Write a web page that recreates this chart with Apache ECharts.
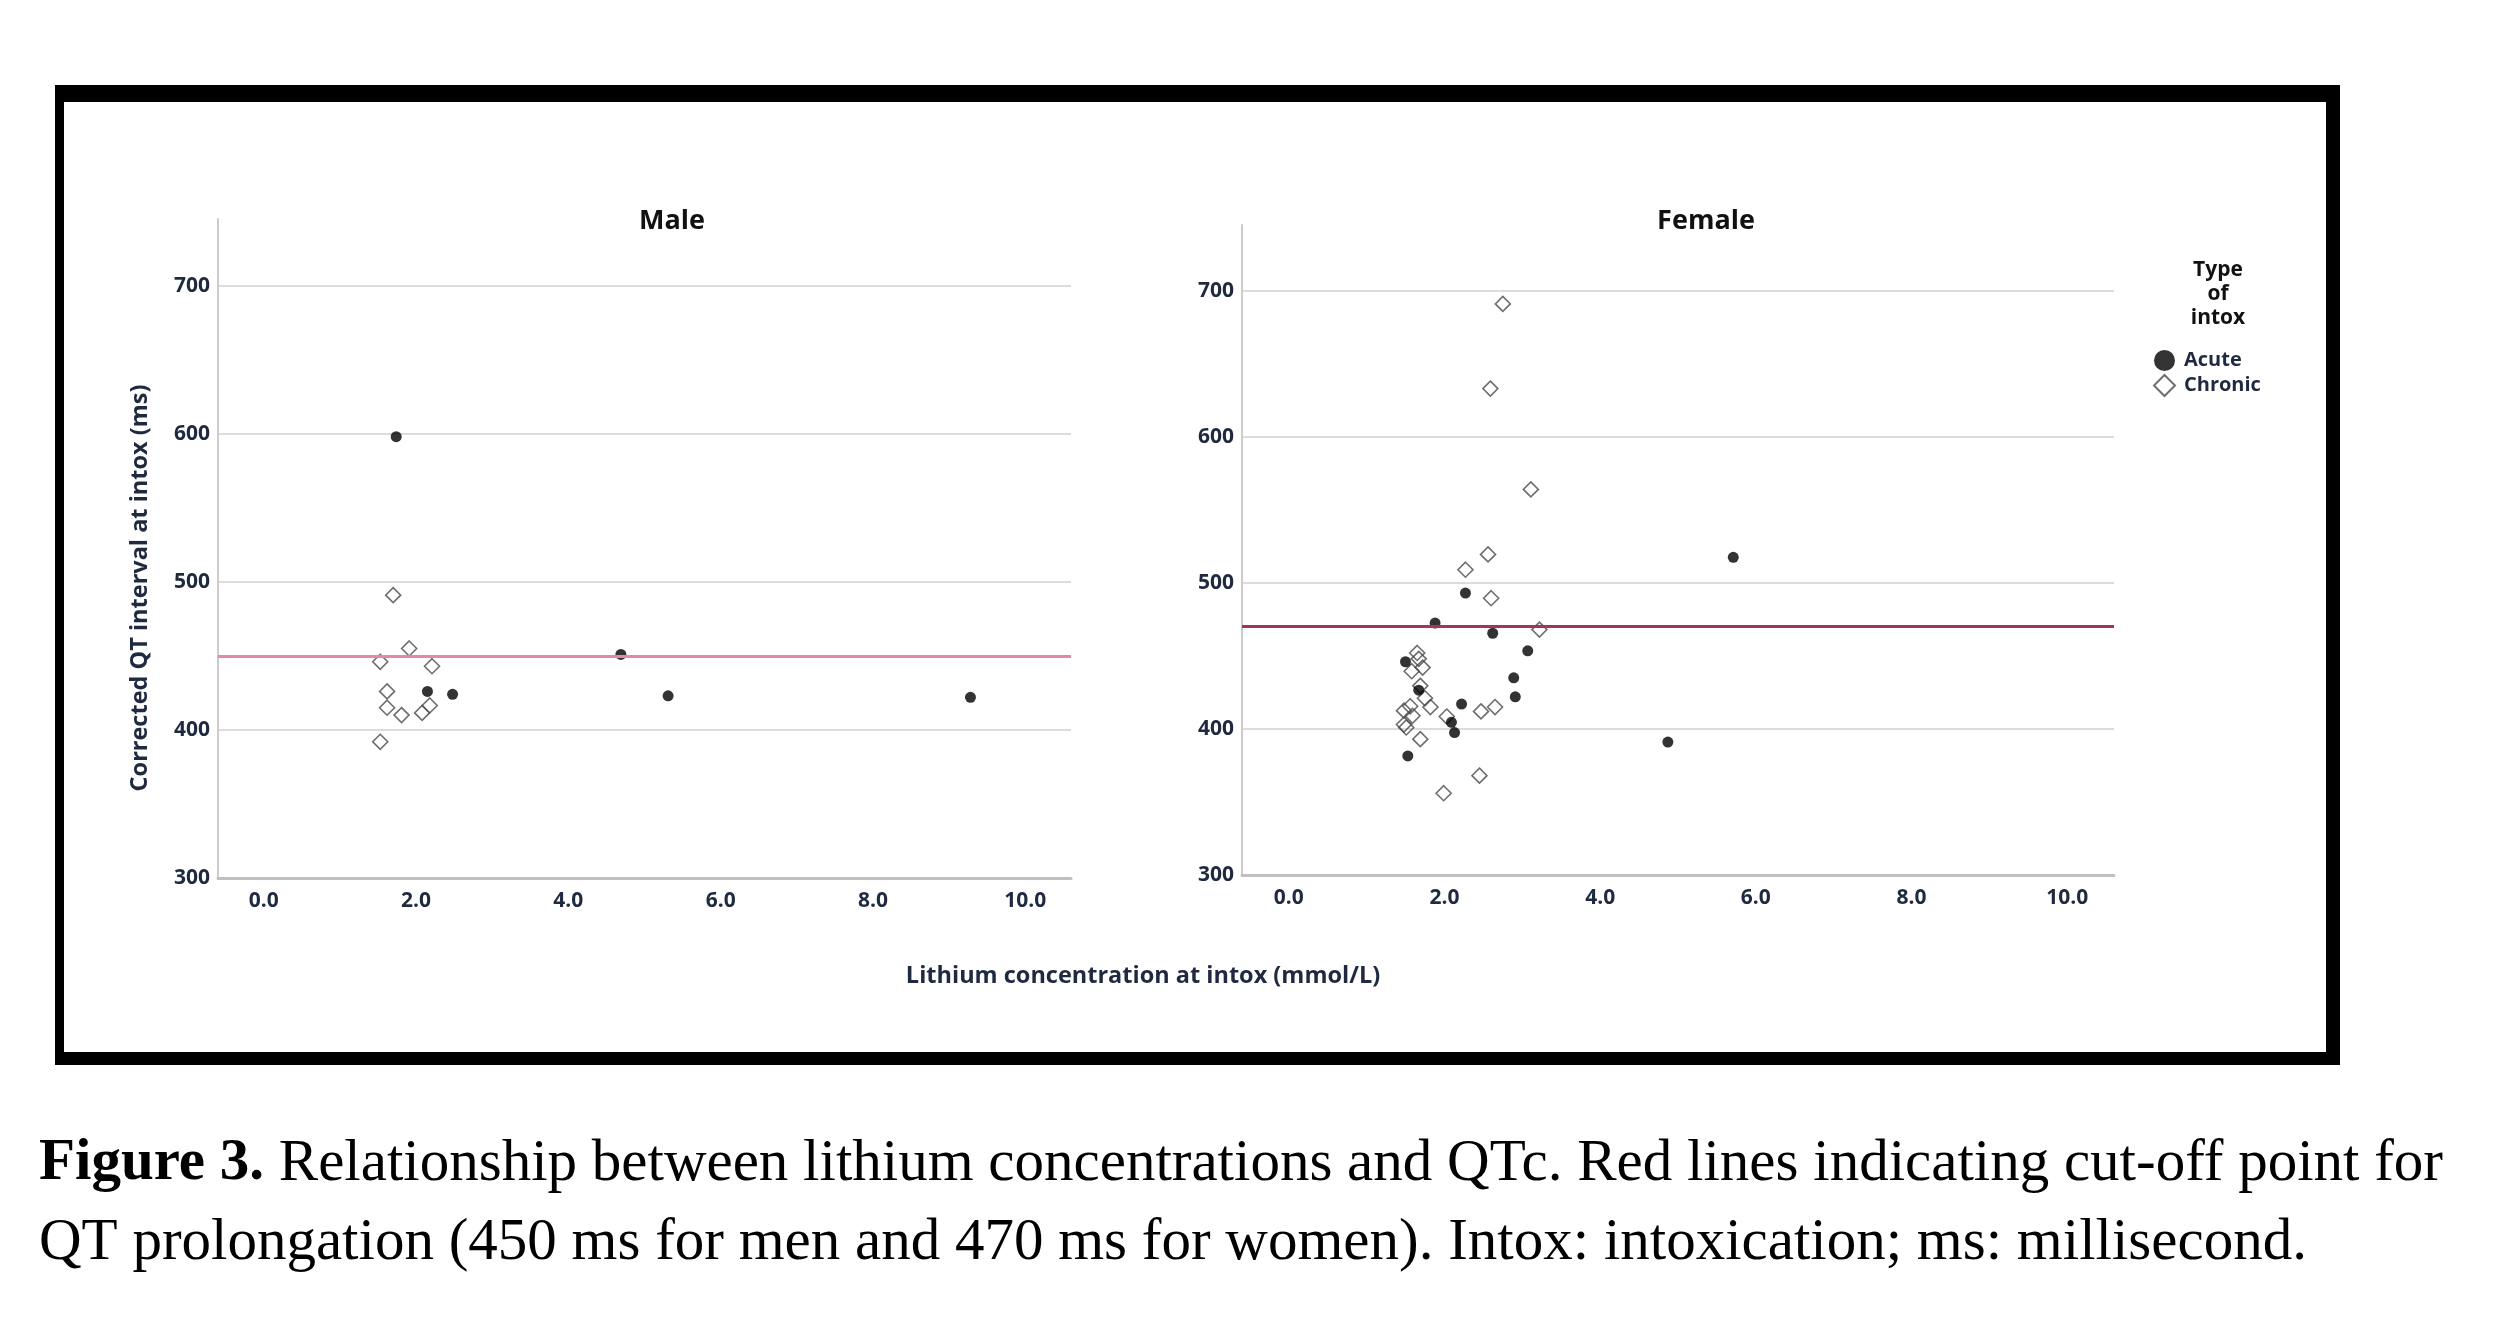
<!DOCTYPE html>
<html>
<head>
<meta charset="utf-8">
<title>Lithium concentration vs QTc</title>
<script src="https://cdn.jsdelivr.net/npm/echarts@6/dist/echarts.min.js"></script>
<style>
  html, body { margin: 0; padding: 0; background: #fff; }
  #chart { width: 2500px; height: 1317px; }
</style>
</head>
<body>
<div id="chart"></div>
<script>
// data: [lithium mmol/L, QTc ms]
var maleAcute = [[1.74, 598], [4.69, 451], [2.15, 426], [2.48, 424], [5.31, 423], [9.28, 422]];
var maleChronic = [[1.70, 491], [1.91, 455], [1.53, 446], [2.21, 443], [1.62, 426], [1.62, 415],
  [1.81, 410], [2.08, 411.5], [2.18, 416.5], [1.53, 392]];
var femaleAcute = [[2.27, 493], [1.88, 472.5], [2.62, 465.5], [3.07, 453.5], [1.50, 446], [2.89, 435],
  [1.67, 426.5], [2.91, 422], [2.22, 417], [2.09, 404.5], [2.13, 397.5], [1.53, 381.5], [4.87, 391], [5.71, 517.5]];
var femaleChronic = [[2.75, 691], [2.59, 633], [3.11, 564], [2.56, 519.5], [2.27, 509], [2.60, 489.5],
  [3.22, 468], [1.65, 452], [1.67, 448], [1.72, 442], [1.58, 439.5], [1.69, 429.5], [1.75, 421],
  [1.82, 415], [1.56, 415.5], [1.48, 412.5], [1.59, 409], [1.48, 403], [1.51, 401], [2.03, 408.5],
  [2.47, 412], [2.65, 415], [1.69, 393], [2.45, 368], [1.99, 356]];
var maleCutoff = 450;
var femaleCutoff = 470;
var typeNames = ['Acute', 'Chronic'];

var navy = '#1f2940';
var font = 'Open Sans';

var chart = echarts.init(document.getElementById('chart'));

function xAxisFor(gridIndex) {
  return {
    type: 'value', gridIndex: gridIndex, min: -0.6, max: 10.6, splitNumber: 5,
    axisLine: { show: true, onZero: false, lineStyle: { color: '#bfbfbf', width: 3 } },
    axisTick: { show: false },
    splitLine: { show: false },
    axisLabel: {
      margin: 13, color: navy, fontFamily: font, fontWeight: 'bold', fontSize: 21,
      formatter: function (v) {
        return Math.abs(v / 2 - Math.round(v / 2)) < 1e-9 ? v.toFixed(1) : '';
      }
    }
  };
}
function yAxisFor(gridIndex) {
  return {
    type: 'value', gridIndex: gridIndex, min: 300, max: 745, splitNumber: 5,
    axisLine: { show: true, onZero: false, lineStyle: { color: '#cccccc', width: 2 } },
    axisTick: { show: false },
    splitLine: { show: true, showMaxLine: false, lineStyle: { color: '#dcdcdc', width: 2 } },
    axisLabel: {
      margin: 8, color: navy, fontFamily: font, fontWeight: 'bold', fontSize: 21,
      showMaxLabel: false,
      formatter: function (v) { return v % 100 === 0 ? String(v) : ''; }
    }
  };
}
function acuteSeries(idx, data) {
  return {
    name: 'Acute', type: 'scatter', xAxisIndex: idx, yAxisIndex: idx, data: data,
    symbol: 'circle', symbolSize: 11, z: 4,
    itemStyle: { color: '#000' }
  };
}
function chronicSeries(idx, data, cutoff, lineColor) {
  return {
    name: 'Chronic', type: 'scatter', xAxisIndex: idx, yAxisIndex: idx, data: data,
    symbol: 'diamond', symbolSize: [15, 15], z: 3,
    itemStyle: { color: 'rgba(255,255,255,0)', borderColor: '#4a4a4a', borderWidth: 1.6 },
    markLine: {
      silent: true, symbol: 'none', label: { show: false },
      lineStyle: { color: lineColor, width: 3, type: 'solid' },
      data: [{ yAxis: cutoff }]
    }
  };
}

var option = {
  backgroundColor: '#fff',
  animation: false,
  title: [
    { text: 'Male', left: 667, top: 203, textAlign: 'center',
      textStyle: { color: '#111', fontFamily: font, fontWeight: 'bold', fontSize: 27 } },
    { text: 'Female', left: 1701, top: 203, textAlign: 'center',
      textStyle: { color: '#111', fontFamily: font, fontWeight: 'bold', fontSize: 27 } }
  ],
  legend: {
    data: typeNames, orient: 'vertical', left: 2148, top: 345,
    itemWidth: 21, itemHeight: 21, itemGap: 3,
    textStyle: { color: navy, fontFamily: font, fontWeight: 'bold', fontSize: 20, padding: [0, 0, 0, 4] }
  },
  grid: [
    { left: 218, top: 219, width: 853, height: 659 },
    { left: 1242, top: 225, width: 872, height: 650 }
  ],
  xAxis: [xAxisFor(0), xAxisFor(1)],
  yAxis: [yAxisFor(0), yAxisFor(1)],
  series: [
    chronicSeries(0, maleChronic, maleCutoff, '#e08aa3'),
    acuteSeries(0, maleAcute),
    chronicSeries(1, femaleChronic, femaleCutoff, '#a8325a'),
    acuteSeries(1, femaleAcute)
  ],
  graphic: [
    // black frame round the figure
    { type: 'rect', shape: { x: 55, y: 85, width: 2285, height: 17 }, style: { fill: '#000' } },
    { type: 'rect', shape: { x: 55, y: 1052, width: 2285, height: 13 }, style: { fill: '#000' } },
    { type: 'rect', shape: { x: 55, y: 85, width: 9, height: 980 }, style: { fill: '#000' } },
    { type: 'rect', shape: { x: 2326, y: 85, width: 14, height: 980 }, style: { fill: '#000' } },
    { type: 'text', x: 140, y: 588, rotation: Math.PI / 2,
      style: { text: 'Corrected QT interval at intox (ms)', fill: navy, font: 'bold 23.5px "Open Sans"',
        align: 'center', verticalAlign: 'middle' } },
    { type: 'text', x: 1143, y: 976,
      style: { text: 'Lithium concentration at intox (mmol/L)', fill: navy, font: 'bold 23.5px "Open Sans"',
        align: 'center', verticalAlign: 'middle' } },
    { type: 'text', x: 2218, y: 294,
      style: { text: 'Type\nof\nintox', fill: '#111', font: 'bold 21px "Open Sans"', lineHeight: 24,
        align: 'center', verticalAlign: 'middle' } },
    { type: 'text', x: 39, y: 1164,
      style: {
        text: '{b|Figure 3.} Relationship between lithium concentrations and QTc. Red lines indicating cut-off point for',
        fill: '#000', fontFamily: 'Liberation Serif', fontSize: 59, verticalAlign: 'middle',
        rich: { b: { fontWeight: 'bold', fontFamily: 'Liberation Serif', fontSize: 59, fill: '#000' } }
      } },
    { type: 'text', x: 39, y: 1243,
      style: {
        text: 'QT prolongation (450 ms for men and 470 ms for women). Intox: intoxication; ms: millisecond.',
        fill: '#000', fontFamily: 'Liberation Serif', fontSize: 59, verticalAlign: 'middle'
      } }
  ]
};

chart.setOption(option);
</script>
</body>
</html>
